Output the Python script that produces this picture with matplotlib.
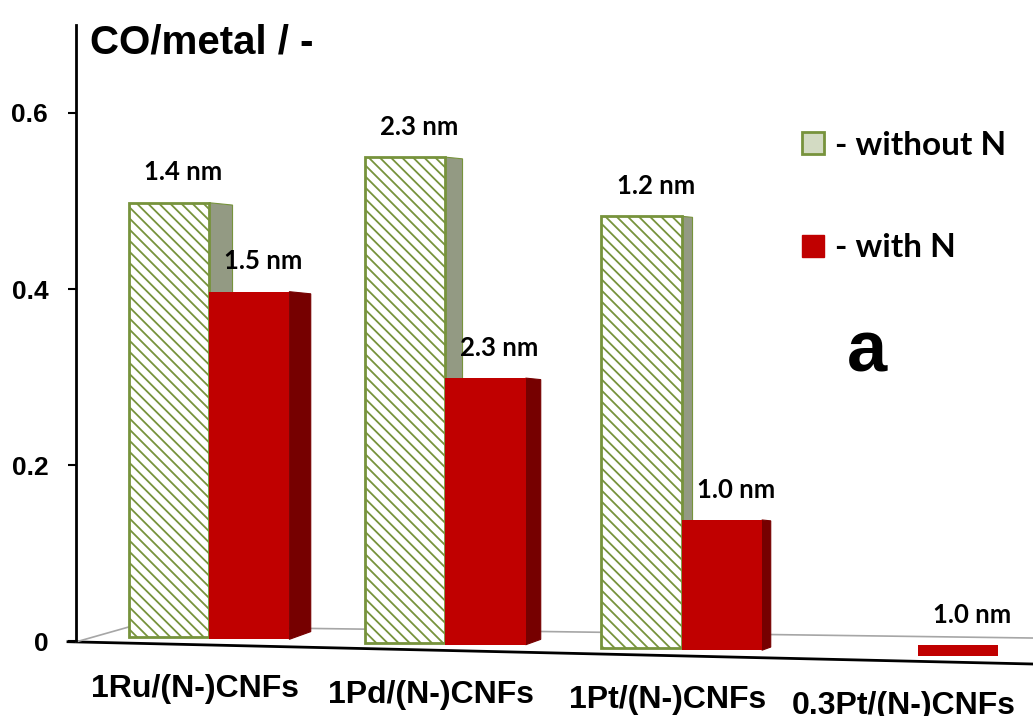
import numpy as np
import matplotlib
matplotlib.use('Agg')
import matplotlib.pyplot as plt
from matplotlib.patches import Polygon, Patch

# datos
categories = ['1Ru/(N-)CNFs', '1Pd/(N-)CNFs', '1Pt/(N-)CNFs', '0.3Pt/(N-)CNFs']
without_n = [0.494, 0.552, 0.491, np.nan]
with_n = [0.395, 0.303, 0.148, 0.012]
size_without = ['1.4 nm', '2.3 nm', '1.2 nm', '']
size_with = ['1.5 nm', '2.3 nm', '1.0 nm', '1.0 nm']
y_ticks = [0, 0.2, 0.4, 0.6]
y_ticklabels = ['0', '0.2', '0.4', '0.6']

plt.rcParams['hatch.linewidth'] = 1.3
arial = ['Liberation Sans', 'DejaVu Sans']
calibri = ['Lato', 'DejaVu Sans']

green = '#77933c'
green_side = '#939a83'
red = '#c00000'
red_side = '#760000'

W, H = 1033, 716
fig = plt.figure(figsize=(W / 100, H / 100), dpi=100)
ax = fig.add_axes([76 / W, 0, 1 - 76 / W, 1])
ax.set_xlim(-0.563, 3.487)
ax.set_ylim(-0.0852, 0.7284)

x = np.arange(len(categories))
w = 0.34
px_x = 236.3  # pixeles por categoria
px_y = 880.0  # pixeles por unidad


def floor(xx):
    # suelo inclinado (perspectiva 3D)
    return 0.003 - 0.0062 * np.asarray(xx, dtype=float)


def draw_series(xpos, vals, face, side, edge, hatch, z):
    vals = np.asarray(vals, dtype=float)
    m = ~np.isnan(vals)
    bottoms = floor(xpos)
    ax.bar(xpos[m], vals[m], width=w, bottom=bottoms[m], color=face,
           edgecolor=edge, hatch=hatch, linewidth=2 if hatch else 0,
           zorder=z + 1, clip_on=False)
    for xi, v, b in zip(xpos[m], vals[m], bottoms[m]):
        if v < 0.02:
            continue
        x1 = xi + w / 2
        d = 23.5 - 6.3 * x1  # la cara lateral se estrecha hacia la derecha
        pts = [(x1, b), (x1 + d / px_x, b + 0.36 * d / px_y),
               (x1 + d / px_x, b + v - 0.1 * d / px_y), (x1, b + v)]
        ax.add_patch(Polygon(pts, closed=True, facecolor=side,
                             edgecolor=edge if hatch else side,
                             linewidth=0.8, zorder=z, clip_on=False))


draw_series(x - w / 2, without_n, 'white', green_side, green, '\\\\\\', 1)
draw_series(x + w / 2, with_n, red, red_side, red, None, 2)

# etiquetas de tamano de particula
for xi, v, t in zip(x - w / 2, without_n, size_without):
    if t:
        ax.annotate(t, (xi + 0.06, floor(xi) + v), xytext=(0, 16),
                    textcoords='offset points', ha='center', va='baseline',
                    fontsize=18.5, fontweight='bold', family=calibri)
for xi, v, t in zip(x + w / 2, with_n, size_with):
    ax.annotate(t, (xi + 0.06, floor(xi) + v), xytext=(0, 16),
                textcoords='offset points', ha='center', va='baseline',
                fontsize=18.5, fontweight='bold', family=calibri)

# categorias
for xi, c in zip(x, categories):
    ax.annotate(c, (xi - 0.06, floor(xi)), xytext=(0, -42.5),
                textcoords='offset points', ha='center', va='baseline',
                fontsize=23, fontweight='bold', family=arial,
                annotation_clip=False)

# suelo
xl = np.array([-0.597, 3.487])
ax.plot(xl, floor(xl) - 0.0075, color='black', lw=2, clip_on=False, zorder=0)
ax.plot([-0.563, -0.326, 3.487], [floor(-0.563) - 0.0075, 0.017, 0.0034],
        color='#a6a6a6', lw=1.2, clip_on=False, zorder=0)

# ejes
for s in ['top', 'right', 'bottom']:
    ax.spines[s].set_visible(False)
ax.spines['left'].set_bounds(0, 0.7)
ax.spines['left'].set_linewidth(2)
ax.set_xticks([])
ax.set_yticks(y_ticks)
ax.set_yticklabels(y_ticklabels, fontsize=19, fontweight='bold', family=arial)
ax.tick_params(axis='y', direction='out', length=6, width=1.5, pad=14)

fig.text(90 / W, 1 - 53 / H, 'CO/metal / -', fontsize=29, fontweight='bold',
         family=arial, va='baseline', ha='left')
fig.text(867 / W, 1 - 372 / H, 'a', fontsize=52, fontweight='bold',
         family=arial, va='baseline', ha='center')

handles = [Patch(facecolor='#d3dbc3', edgecolor=green, lw=2,
                 label='- without N'),
           Patch(facecolor=red, edgecolor=red, label='- with N')]
fig.legend(handles=handles, loc='upper left',
           bbox_to_anchor=(802 / W, 1 - 131 / H), frameon=False,
           prop={'family': calibri, 'weight': 'bold', 'size': 24},
           handlelength=0.65, handleheight=0.65, handletextpad=0.35,
           labelspacing=2.2, borderpad=0, borderaxespad=0)

fig.savefig('out.png', dpi=100)
